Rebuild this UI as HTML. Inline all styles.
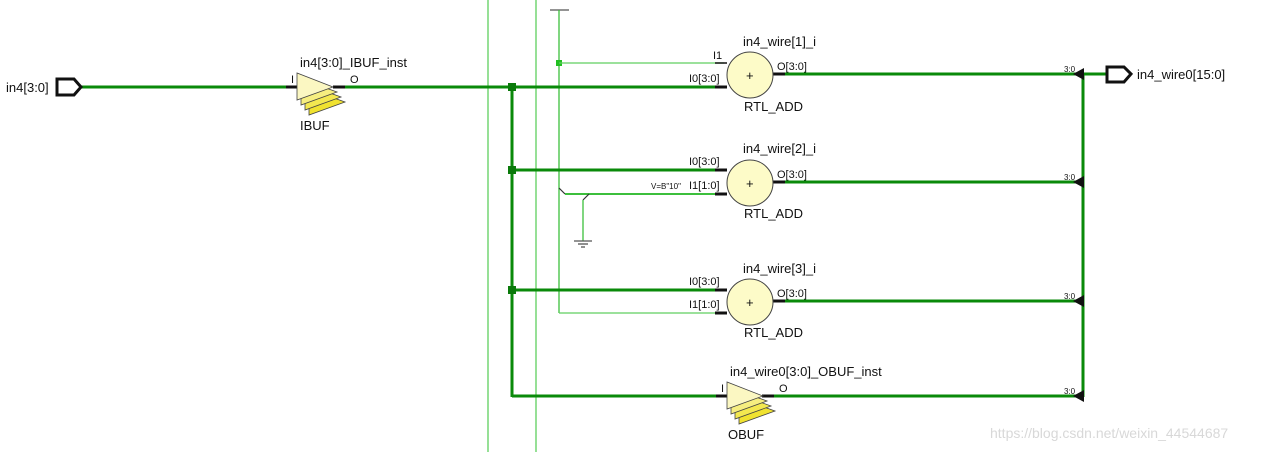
<!DOCTYPE html>
<html><head><style>body{margin:0;background:#fff}svg{display:block}text{font-family:"Liberation Sans",sans-serif;fill:#111}</style></head>
<body>
<svg width="1272" height="452" viewBox="0 0 1272 452" xmlns="http://www.w3.org/2000/svg">
<defs>
<g id="buf">
<polygon points="12,2 12,28 48,15" fill="#f0e230" stroke="#444" stroke-width="0.8"/>
<polygon points="8,-3 8,23 44,10" fill="#f3e850" stroke="#444" stroke-width="0.8"/>
<polygon points="4,-8 4,18 40,5" fill="#f6ee80" stroke="#444" stroke-width="0.8"/>
<polygon points="0,-14 0,13 36,0" fill="#fbf7c2" stroke="#444" stroke-width="0.8"/>
</g>
</defs>
<line x1="488" y1="0" x2="488" y2="452" stroke="#5fcf5f" stroke-width="1.3"/>
<line x1="536" y1="0" x2="536" y2="452" stroke="#5fcf5f" stroke-width="1.3"/>
<line x1="550" y1="10" x2="569" y2="10" stroke="#555" stroke-width="1.3"/>
<line x1="559" y1="10" x2="559" y2="313" stroke="#3cbf3c" stroke-width="1.3"/>
<rect x="556" y="60" width="6" height="6" fill="#22c022"/>
<line x1="559" y1="63" x2="724" y2="63" stroke="#5fcf5f" stroke-width="1.3"/>
<line x1="559" y1="313" x2="724" y2="313" stroke="#5fcf5f" stroke-width="1.3"/>
<line x1="559" y1="188" x2="565" y2="194" stroke="#333" stroke-width="1.2"/>
<line x1="565" y1="194" x2="724" y2="194" stroke="#3cbf3c" stroke-width="2"/>
<line x1="589" y1="194" x2="583" y2="200" stroke="#333" stroke-width="1.2"/>
<line x1="583" y1="200" x2="583" y2="241" stroke="#3cbf3c" stroke-width="1.3"/>
<line x1="574" y1="241" x2="592" y2="241" stroke="#555" stroke-width="1.3"/>
<line x1="578" y1="244" x2="588" y2="244" stroke="#555" stroke-width="1.3"/>
<line x1="581" y1="247" x2="585" y2="247" stroke="#555" stroke-width="1.3"/>
<g stroke="#0a8a0a" stroke-width="3" fill="none">
<line x1="80" y1="87" x2="296" y2="87"/>
<line x1="336" y1="87" x2="726" y2="87"/>
<line x1="512" y1="87" x2="512" y2="397"/>
<line x1="512" y1="170" x2="726" y2="170"/>
<line x1="512" y1="290" x2="726" y2="290"/>
<line x1="512" y1="396" x2="724" y2="396"/>
<line x1="778" y1="74" x2="1107" y2="74"/>
<line x1="778" y1="182" x2="1082" y2="182"/>
<line x1="778" y1="301" x2="1082" y2="301"/>
<line x1="764" y1="396" x2="1082" y2="396"/>
<line x1="1083" y1="74" x2="1083" y2="397"/>
</g>
<rect x="508" y="83" width="8" height="8" fill="#0a7a0a"/>
<rect x="508" y="166" width="8" height="8" fill="#0a7a0a"/>
<rect x="508" y="286" width="8" height="8" fill="#0a7a0a"/>
<g fill="#111">
<polygon points="1073,74 1084,68 1084,80"/>
<polygon points="1073,182 1084,176 1084,188"/>
<polygon points="1073,301 1084,295 1084,307"/>
<polygon points="1073,396 1084,390 1084,402"/>
</g>
<g font-size="8">
<text x="1064" y="72">3:0</text><text x="1064" y="180">3:0</text><text x="1064" y="299">3:0</text><text x="1064" y="394">3:0</text>
</g>
<polygon points="57,79 74,79 81,87 74,95 57,95" fill="#fff" stroke="#111" stroke-width="3"/>
<text x="6" y="92" font-size="13">in4[3:0]</text>
<polygon points="1107,67 1124,67 1131,74 1124,82 1107,82" fill="#fff" stroke="#111" stroke-width="3"/>
<text x="1137" y="79" font-size="13">in4_wire0[15:0]</text>
<line x1="286" y1="87" x2="297" y2="87" stroke="#111" stroke-width="3"/>
<line x1="333" y1="87" x2="345" y2="87" stroke="#111" stroke-width="3"/>
<use href="#buf" x="297" y="87"/>
<text x="300" y="67" font-size="13">in4[3:0]_IBUF_inst</text>
<text x="291" y="83" font-size="11">I</text>
<text x="350" y="83" font-size="11">O</text>
<text x="300" y="130" font-size="13">IBUF</text>
<line x1="716" y1="396" x2="727" y2="396" stroke="#111" stroke-width="3"/>
<line x1="762" y1="396" x2="774" y2="396" stroke="#111" stroke-width="3"/>
<use href="#buf" x="727" y="396"/>
<text x="730" y="376" font-size="13">in4_wire0[3:0]_OBUF_inst</text>
<text x="721" y="392" font-size="11">I</text>
<text x="779" y="392" font-size="11">O</text>
<text x="728" y="439" font-size="13">OBUF</text>
<g font-size="11">
<line x1="715" y1="63" x2="727" y2="63" stroke="#111" stroke-width="1.5"/>
<line x1="715" y1="87" x2="727" y2="87" stroke="#111" stroke-width="3"/>
<line x1="772" y1="74" x2="785" y2="74" stroke="#111" stroke-width="3"/>
<circle cx="750" cy="75" r="23" fill="#fdfbc8" stroke="#444" stroke-width="1"/>
<text x="746" y="80" font-size="13">+</text>
<text x="713" y="59">I1</text>
<text x="689" y="82">I0[3:0]</text>
<text x="777" y="70">O[3:0]</text>
<text x="743" y="46" font-size="13">in4_wire[1]_i</text>
<text x="744" y="111" font-size="13">RTL_ADD</text>
<line x1="715" y1="170" x2="727" y2="170" stroke="#111" stroke-width="3"/>
<line x1="715" y1="194" x2="727" y2="194" stroke="#111" stroke-width="3"/>
<line x1="772" y1="182" x2="785" y2="182" stroke="#111" stroke-width="3"/>
<circle cx="750" cy="183" r="23" fill="#fdfbc8" stroke="#444" stroke-width="1"/>
<text x="746" y="188" font-size="13">+</text>
<text x="689" y="165">I0[3:0]</text>
<text x="651" y="189" font-size="8">V=B"10"</text>
<text x="689" y="189">I1[1:0]</text>
<text x="777" y="178">O[3:0]</text>
<text x="743" y="153" font-size="13">in4_wire[2]_i</text>
<text x="744" y="218" font-size="13">RTL_ADD</text>
<line x1="715" y1="290" x2="727" y2="290" stroke="#111" stroke-width="3"/>
<line x1="715" y1="313" x2="727" y2="313" stroke="#111" stroke-width="3"/>
<line x1="772" y1="301" x2="785" y2="301" stroke="#111" stroke-width="3"/>
<circle cx="750" cy="302" r="23" fill="#fdfbc8" stroke="#444" stroke-width="1"/>
<text x="746" y="307" font-size="13">+</text>
<text x="689" y="285">I0[3:0]</text>
<text x="689" y="308">I1[1:0]</text>
<text x="777" y="297">O[3:0]</text>
<text x="743" y="273" font-size="13">in4_wire[3]_i</text>
<text x="744" y="337" font-size="13">RTL_ADD</text>
</g>
<text x="990" y="438" font-size="14" style="fill:#d8d8d8">https://blog.csdn.net/weixin_44544687</text>
</svg>
</body></html>
